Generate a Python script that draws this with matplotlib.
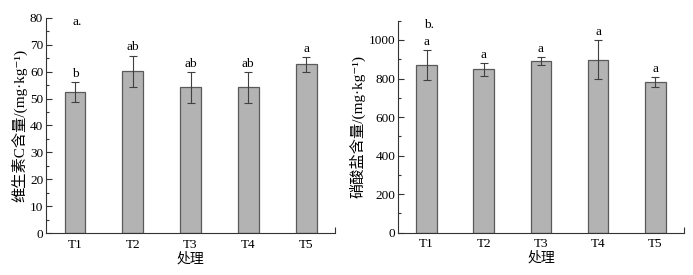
import matplotlib
matplotlib.use("Agg")
import matplotlib.pyplot as plt
import numpy as np

plt.rcParams['font.family'] = ['Liberation Serif', 'Noto Sans CJK SC', 'DejaVu Sans']

# data
treatments = ['T1', 'T2', 'T3', 'T4', 'T5']
vitc_mean = [52.3, 60.2, 54.2, 54.2, 62.7]
vitc_err = [3.7, 5.8, 5.8, 5.8, 2.9]
vitc_sig = ['b', 'ab', 'ab', 'ab', 'a']
nitrate_mean = [869, 848, 893, 898, 782]
nitrate_err = [77, 35, 21, 102, 25]
nitrate_sig = ['a', 'a', 'a', 'a', 'a']

bar_face = '#b3b3b3'
bar_edge = '#5a5a5a'
err_col = '#404040'
fs = 9.5


def draw_panel(ax, means, errs, sigs, ylim, major, minor, ylabel, tag, sig_off):
    x = np.arange(1, len(means) + 1)
    ax.bar(x, means, width=0.36, color=bar_face, edgecolor=bar_edge, linewidth=0.9, zorder=2)
    ax.errorbar(x, means, yerr=errs, fmt='none', ecolor=err_col, elinewidth=0.8,
                capsize=3, capthick=0.8, zorder=3)
    for xi, m, e, s in zip(x, means, errs, sigs):
        ax.text(xi, m + e + sig_off, s, ha='center', va='bottom', fontsize=fs)
    ax.set_xlim(0.5, 5.5)
    ax.set_ylim(*ylim)
    ax.set_xticks(x)
    ax.set_xticklabels(treatments, fontsize=fs)
    ax.set_xticks([5.5], minor=True)
    ax.tick_params(axis='x', which='major', length=0, pad=4)
    ax.tick_params(axis='x', which='minor', direction='in', length=4, width=0.8, color='#333333')
    ax.set_yticks(np.arange(ylim[0], ylim[1] + 1e-9, major))
    ax.set_yticks(np.arange(ylim[0], ylim[1] + 1e-9, minor), minor=True)
    ax.tick_params(axis='y', which='major', direction='in', length=4, width=0.8,
                   labelsize=fs, pad=2, color='#333333')
    ax.tick_params(axis='y', which='minor', direction='in', length=2.5, width=0.8, color='#333333')
    for side in ['top', 'right']:
        ax.spines[side].set_visible(False)
    for side in ['left', 'bottom']:
        ax.spines[side].set_linewidth(0.8)
        ax.spines[side].set_color('#333333')
    ax.set_xlabel('处理', fontsize=10, labelpad=1)
    ax.set_ylabel(ylabel, fontsize=11, labelpad=2)
    ax.text(0.09, 1.01, tag, transform=ax.transAxes, ha='left', va='top', fontsize=fs)


fig = plt.figure(figsize=(6.93, 2.75), dpi=100)
ax1 = fig.add_axes([0.0664, 0.1527, 0.417, 0.782])
ax2 = fig.add_axes([0.5743, 0.154, 0.4127, 0.7707])

draw_panel(ax1, vitc_mean, vitc_err, vitc_sig, (0, 80), 10, 5,
           '维生素C含量/(mg·kg⁻¹)', 'a.', 0.8)
draw_panel(ax2, nitrate_mean, nitrate_err, nitrate_sig, (0, 1100), 200, 100,
           '硝酸盐含量/(mg·kg⁻¹)', 'b.', 10)
ax2.set_yticks(np.arange(0, 1001, 200))

fig.savefig('out.png', dpi=100)
